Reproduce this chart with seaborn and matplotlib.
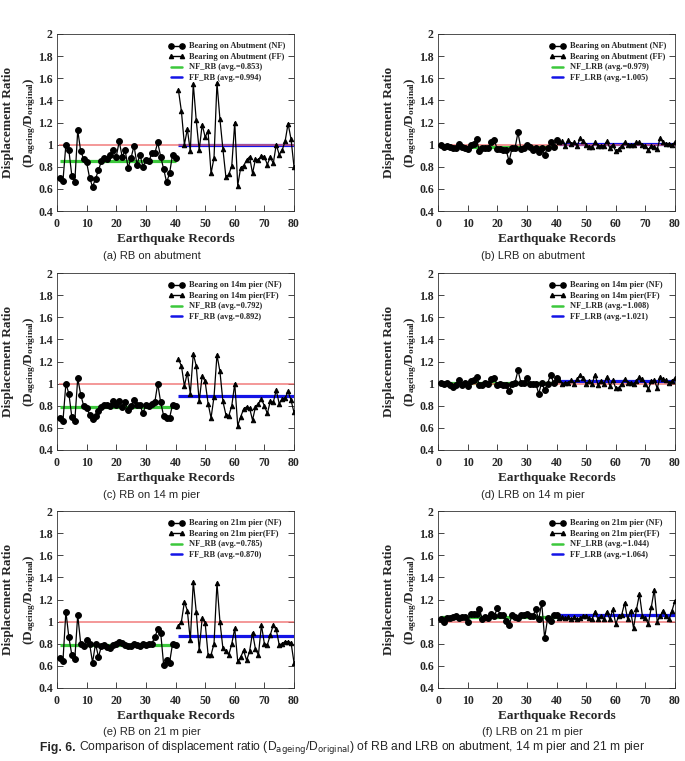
import matplotlib
matplotlib.use("Agg")
import matplotlib.pyplot as plt
import matplotlib.ticker as mticker
from matplotlib.lines import Line2D
import pandas as pd
import seaborn as sns

# Record numbers: near-fault (NF) 1-40, far-field (FF) 41-80
records_nf = list(range(1, 41))
records_ff = list(range(41, 81))

# (a) RB on abutment
rb_abut_nf = [0.70, 0.67, 1.00, 0.95, 0.72, 0.66, 1.13, 0.94, 0.87, 0.84,
              0.70, 0.62, 0.69, 0.77, 0.85, 0.88, 0.87, 0.91, 0.95, 0.89,
              1.03, 0.89, 0.95, 0.79, 0.88, 0.99, 0.82, 0.91, 0.80, 0.86,
              0.85, 0.92, 0.92, 1.02, 0.89, 0.78, 0.66, 0.74, 0.91, 0.88]
rb_abut_ff = [1.49, 1.30, 1.00, 1.14, 0.94, 1.55, 1.22, 0.95, 1.18, 1.07,
              1.12, 0.74, 0.88, 1.56, 1.23, 0.96, 0.71, 0.73, 0.81, 1.20,
              0.63, 0.79, 0.81, 0.86, 0.89, 0.74, 0.87, 0.86, 0.90, 0.89,
              0.82, 0.89, 0.83, 1.00, 0.91, 0.95, 1.03, 1.19, 1.05, 0.80]

# (b) LRB on abutment
lrb_abut_nf = [1.00, 0.98, 0.99, 0.98, 0.97, 0.97, 1.01, 0.98, 0.97, 0.96,
               1.00, 1.01, 1.05, 0.94, 0.97, 0.97, 0.97, 1.02, 1.04, 0.96,
               0.96, 0.95, 0.95, 0.85, 0.97, 0.97, 1.11, 0.96, 0.97, 1.00,
               0.98, 0.95, 0.97, 0.93, 0.97, 0.91, 0.97, 1.02, 0.98, 1.04]
lrb_abut_ff = [1.02, 1.03, 0.99, 1.04, 1.01, 1.02, 0.99, 1.06, 1.03, 1.00,
               0.98, 0.98, 1.02, 0.99, 0.99, 0.99, 1.03, 0.97, 1.00, 0.94,
               0.96, 0.99, 1.02, 1.00, 1.00, 1.00, 1.02, 1.02, 1.00, 0.99,
               0.95, 0.99, 0.98, 0.96, 1.06, 1.02, 1.01, 1.01, 1.00, 1.02]

# (c) RB on 14 m pier
rb_p14_nf = [0.69, 0.66, 1.00, 0.91, 0.70, 0.66, 1.05, 0.90, 0.80, 0.78,
             0.72, 0.68, 0.71, 0.75, 0.79, 0.81, 0.81, 0.80, 0.84, 0.81,
             0.84, 0.79, 0.83, 0.76, 0.80, 0.85, 0.81, 0.81, 0.73, 0.81,
             0.80, 0.82, 0.83, 1.00, 0.83, 0.71, 0.69, 0.69, 0.81, 0.80]
rb_p14_ff = [1.22, 1.16, 0.98, 1.10, 0.91, 1.27, 1.16, 0.84, 1.07, 1.02,
             0.82, 0.69, 0.88, 1.26, 1.11, 0.84, 0.72, 0.71, 0.80, 1.00,
             0.62, 0.70, 0.77, 0.79, 0.78, 0.67, 0.79, 0.82, 0.86, 0.80,
             0.73, 0.84, 0.83, 0.94, 0.82, 0.86, 0.87, 0.93, 0.85, 0.74]

# (d) LRB on 14 m pier
lrb_p14_nf = [1.01, 1.00, 1.01, 0.99, 0.97, 0.99, 1.03, 0.99, 1.01, 0.98,
              1.02, 1.03, 1.06, 0.99, 0.99, 1.01, 1.00, 1.04, 1.05, 0.99,
              1.00, 0.99, 0.99, 0.93, 1.00, 1.01, 1.12, 1.01, 1.01, 1.05,
              1.00, 1.00, 1.00, 0.91, 1.01, 0.94, 1.00, 1.08, 1.01, 1.05]
lrb_p14_ff = [1.03, 1.00, 1.01, 1.01, 1.03, 1.00, 1.04, 1.08, 1.05, 1.00,
              1.02, 1.00, 1.08, 0.99, 1.02, 1.00, 1.06, 0.98, 1.03, 0.96,
              0.96, 1.00, 1.04, 1.01, 1.01, 1.00, 1.02, 1.06, 1.04, 1.00,
              0.95, 1.02, 1.03, 0.96, 1.06, 1.04, 1.03, 1.01, 1.02, 1.05]

# (e) RB on 21 m pier
rb_p21_nf = [0.67, 0.64, 1.09, 0.86, 0.70, 0.66, 1.06, 0.80, 0.78, 0.83,
             0.80, 0.63, 0.80, 0.68, 0.78, 0.79, 0.77, 0.76, 0.79, 0.80,
             0.82, 0.81, 0.79, 0.78, 0.78, 0.80, 0.79, 0.78, 0.80, 0.79,
             0.80, 0.80, 0.86, 0.93, 0.90, 0.61, 0.65, 0.63, 0.80, 0.79]
rb_p21_ff = [0.96, 1.00, 1.18, 1.10, 0.83, 1.36, 1.09, 0.74, 1.03, 0.99,
             0.70, 0.70, 0.80, 1.35, 1.00, 0.76, 0.73, 0.70, 0.80, 0.94,
             0.64, 0.68, 0.74, 0.65, 0.73, 0.90, 0.75, 0.70, 0.97, 0.80,
             0.79, 0.88, 0.97, 0.93, 0.79, 0.80, 0.82, 0.82, 0.81, 0.63]

# (f) LRB on 21 m pier
lrb_p21_nf = [1.02, 1.00, 1.03, 1.03, 1.04, 1.05, 1.03, 1.04, 1.04, 1.00,
              1.07, 1.07, 1.07, 1.11, 1.02, 1.04, 1.03, 1.07, 1.05, 1.12,
              1.06, 1.06, 1.01, 0.97, 1.06, 1.04, 1.03, 1.06, 1.06, 1.07,
              1.05, 1.05, 1.11, 1.02, 1.17, 0.85, 1.03, 1.01, 1.06, 1.06]
lrb_p21_ff = [1.03, 1.04, 1.03, 1.04, 1.02, 1.04, 1.02, 1.03, 1.05, 1.05,
              1.03, 1.02, 1.09, 1.02, 1.05, 1.02, 1.09, 1.02, 1.11, 0.98,
              1.05, 1.06, 1.17, 1.02, 1.10, 0.94, 1.11, 1.25, 1.05, 1.03,
              0.98, 1.13, 1.29, 1.00, 1.05, 1.10, 1.05, 1.02, 1.10, 1.19]

# averages given in the legends
avg_nf = [0.853, 0.979, 0.792, 1.008, 0.785, 1.044]
avg_ff = [0.994, 1.005, 0.892, 1.021, 0.870, 1.064]

bearing_names = ["Bearing on Abutment (NF)", "Bearing on Abutment (FF)",
                 "Bearing on Abutment (NF)", "Bearing on Abutment (FF)",
                 "Bearing on 14m pier (NF)", "Bearing on 14m pier(FF)",
                 "Bearing on 14m pier (NF)", "Bearing on 14m pier(FF)",
                 "Bearing on 21m pier (NF)", "Bearing on 21m pier(FF)",
                 "Bearing on 21m pier (NF)", "Bearing on 21m pier(FF)"]
bearing_type = ["RB", "LRB", "RB", "LRB", "RB", "LRB"]
sub_captions = ["(a) RB on abutment", "(b) LRB on abutment",
                "(c) RB on 14 m pier", "(d) LRB on 14 m pier",
                "(e) RB on 21 m pier", "(f) LRB on 21 m pier"]

nf_sets = [rb_abut_nf, lrb_abut_nf, rb_p14_nf, lrb_p14_nf, rb_p21_nf, lrb_p21_nf]
ff_sets = [rb_abut_ff, lrb_abut_ff, rb_p14_ff, lrb_p14_ff, rb_p21_ff, lrb_p21_ff]

sns.set_style("ticks")
plt.rcParams['font.family'] = ['Liberation Serif', 'DejaVu Serif']
plt.rcParams['mathtext.fontset'] = 'custom'
plt.rcParams['mathtext.rm'] = 'Liberation Serif:bold'
plt.rcParams['mathtext.bf'] = 'Liberation Serif:bold'
plt.rcParams['mathtext.it'] = 'Liberation Serif:bold:italic'

GREEN = '#3cc83c'
BLUE = '#1414e6'
RED = '#f06a6a'

W, H = 685, 761
fig = plt.figure(figsize=(W / 100, H / 100), dpi=100)

lefts = [57, 438]
tops = [34, 273, 511]
ax_w, ax_h = 237, 177

for i in range(6):
    row, col = divmod(i, 2)
    l = lefts[col]
    t = tops[row]
    ax = fig.add_axes([l / W, 1 - (t + ax_h) / H, ax_w / W, ax_h / H])

    df_nf = pd.DataFrame({'rec': records_nf, 'ratio': nf_sets[i]})
    df_ff = pd.DataFrame({'rec': records_ff, 'ratio': ff_sets[i]})

    # average lines and the reference line at 1.0
    ax.hlines(avg_nf[i], records_nf[0], records_nf[-1], color=GREEN, lw=2.3, zorder=2)
    ax.hlines(avg_ff[i], records_ff[0], records_ff[-1], color=BLUE, lw=2.3, zorder=2)
    ax.hlines(1.0, 0.7, records_ff[-1], color=RED, lw=1.3, alpha=0.75, zorder=2.5)

    sns.lineplot(data=df_nf, x='rec', y='ratio', ax=ax, color='black', lw=0.9,
                 marker='o', markersize=4.2, markeredgecolor='black', zorder=3)
    sns.lineplot(data=df_ff, x='rec', y='ratio', ax=ax, color='black', lw=0.9,
                 marker='^', markersize=3.2, markeredgecolor='black', zorder=3)

    ax.set_xlim(0, 80)
    ax.set_ylim(0.4, 2.0)
    ax.xaxis.set_major_locator(mticker.MultipleLocator(10))
    ax.yaxis.set_major_locator(mticker.MultipleLocator(0.2))
    ax.yaxis.set_major_formatter(mticker.FuncFormatter(lambda v, p: f"{v:g}"))
    ax.tick_params(direction='in', right=True, length=4, width=0.6, labelsize=8.5)
    ax.tick_params(axis='x', pad=5)
    ax.tick_params(axis='y', pad=3)
    for lab in ax.get_xticklabels() + ax.get_yticklabels():
        lab.set_fontweight('bold')
    for sp in ax.spines.values():
        sp.set_linewidth(0.6)
        sp.set_color('#333333')

    ax.set_xlabel("Earthquake Records", fontsize=9.5, fontweight='bold', labelpad=2)
    ax.set_ylabel("Displacement Ratio\n" + r"(D$_{\mathrm{ageing}}$/D$_{\mathrm{original}}$)",
                  fontsize=9.5, fontweight='bold', linespacing=1.65, labelpad=0)

    handles = [
        Line2D([], [], color='black', lw=1, marker='o', markersize=3.8),
        Line2D([], [], color='black', lw=1, marker='^', markersize=3),
        Line2D([], [], color=GREEN, lw=1.8),
        Line2D([], [], color=BLUE, lw=1.8),
    ]
    labels = [bearing_names[2 * i], bearing_names[2 * i + 1],
              f"NF_{bearing_type[i]} (avg.={avg_nf[i]:.3f})",
              f"FF_{bearing_type[i]} (avg.={avg_ff[i]:.3f})"]
    ax.legend(handles, labels, loc='upper left', bbox_to_anchor=(0.445, 0.985),
              frameon=False, numpoints=2, handlelength=2.0, handletextpad=0.45,
              labelspacing=0.3, borderpad=0.2,
              prop={'family': 'Liberation Serif', 'weight': 'bold', 'size': 6})

    # sub caption below each panel
    sub_y = [256, 495, 732][row]
    fig.text((l + ax_w / 2 - 24) / W, 1 - sub_y / H, sub_captions[i],
             ha='center', va='center', fontsize=8, family='Liberation Sans')

# figure caption
renderer = fig.canvas.get_renderer()
cap_y = 1 - 748 / H
t1 = fig.text(40 / W, cap_y, "Fig. 6.", fontsize=8.7, fontweight='bold',
              family='Liberation Sans', va='center')
x_end = t1.get_window_extent(renderer).x1
fig.text((x_end + 3) / W, cap_y,
         r"Comparison of displacement ratio (D$_{\mathrm{ageing}}$/D$_{\mathrm{original}}$) "
         "of RB and LRB on abutment, 14 m pier and 21 m pier",
         fontsize=8.7, family='Liberation Sans', va='center', math_fontfamily='dejavusans')

fig.savefig("out.png", dpi=100)
